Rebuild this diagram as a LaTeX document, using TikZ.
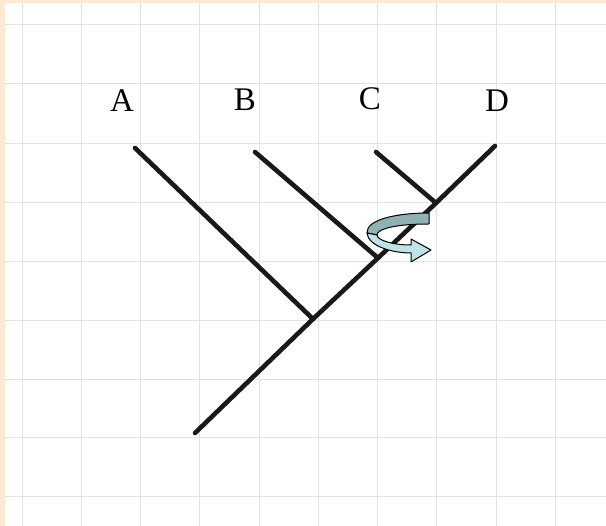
\documentclass[tikz,border=0pt]{standalone}
\usepackage{fontspec}
\setmainfont{Liberation Serif}
\definecolor{paper}{HTML}{FCEBD2}
\definecolor{gridgray}{HTML}{E3E3E3}
\definecolor{turnback}{HTML}{8FB2B4}
\definecolor{turnfront}{HTML}{BCE3E6}
\tikzset{
    branch/.style={line width=4.6pt, line cap=round, line join=round, black!90},
    taxon/.style={font=\fontsize{33}{35}\selectfont, inner sep=0pt},
    gridline/.style={gridgray, line width=1pt},
    turnpart/.style={draw=black, line width=1pt, line join=round},
}

\begin{document}
\begin{tikzpicture}[x=1pt, y=-1pt]
    \useasboundingbox (0,0) rectangle (606,526);

    % Paper and grid
    \fill[paper] (0,0) rectangle (606,526);
    \fill[white] (5,3) rectangle (606,526);
    \foreach \gx in {22,81,140,199,259,318,377,436,496,555}
        \draw[gridline] (\gx,3) -- (\gx,526);
    \foreach \gy in {25,84,144,203,262,321,380,438,497}
        \draw[gridline] (5,\gy) -- (606,\gy);

    % Labels
    \node[taxon] (labA) at (122,101) {A};
    \node[taxon] (labB) at (245,100) {B};
    \node[taxon] (labC) at (370,99) {C};
    \node[taxon] (labD) at (497,101) {D};

    % Vertices
    \coordinate (tipA)  at (135,148);
    \coordinate (tipB)  at (255,152);
    \coordinate (tipC)  at (376,152);
    \coordinate (tipD)  at (495,146);
    \coordinate (nCD)   at (436,203);
    \coordinate (nBCD)  at (378,258);
    \coordinate (nABCD) at (313,319);
    \coordinate (root)  at (195,433);

    % Tree
    \draw[branch] (tipA) -- (nABCD);
    \draw[branch] (tipB) -- (nBCD);
    \draw[branch] (tipC) -- (nCD);
    \draw[branch] (tipD) -- (nCD) -- (nBCD) -- (nABCD) -- (root);

    % Rotation arrow at the C-D node
    \fill[turnback, turnpart] (429,213) .. controls (395,213) and (366,220) .. (367,233)
        -- (377,235) .. controls (377,229) and (395,224) .. (429,224) -- cycle;
    \fill[turnfront, turnpart] (367,233) .. controls (368,246) and (392,253) .. (411,253)
        -- (411,262) -- (431,250) -- (411,239) -- (411,245)
        .. controls (392,245) and (377,240) .. (377,235) -- cycle;

\end{tikzpicture}
\end{document}
